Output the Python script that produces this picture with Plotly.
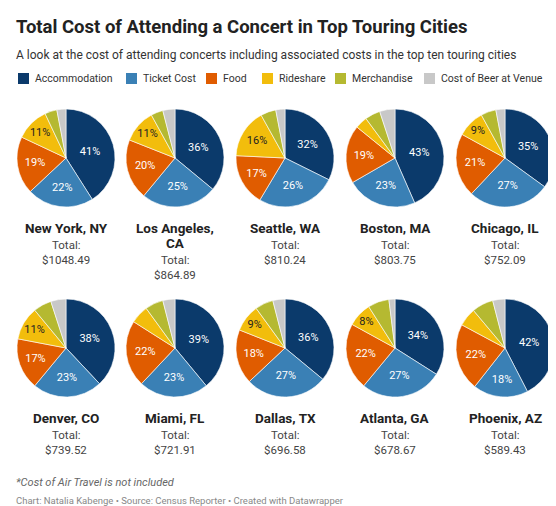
import plotly.graph_objects as go

categories = ["Accommodation", "Ticket Cost", "Food", "Rideshare", "Merchandise", "Cost of Beer at Venue"]
colors = ["#0b3a6b", "#3a80b5", "#e05c00", "#f2bd0c", "#b5b931", "#c8c8c8"]
cities = ["New York, NY", "Los Angeles,<br>CA", "Seattle, WA", "Boston, MA", "Chicago, IL",
          "Denver, CO", "Miami, FL", "Dallas, TX", "Atlanta, GA", "Phoenix, AZ"]
totals = ["$1048.49", "$864.89", "$810.24", "$803.75", "$752.09",
          "$739.52", "$721.91", "$696.58", "$678.67", "$589.43"]
shares = [
    [41, 22, 19, 11, 4, 3],
    [36, 25, 20, 11, 4, 4],
    [32, 26, 17, 16, 5, 3],
    [43, 23, 19, 4, 5, 5],
    [35, 27, 21, 9, 5, 3],
    [38, 23, 17, 11, 6, 5],
    [39, 23, 22, 6, 6, 4],
    [36, 27, 18, 9, 6, 4],
    [34, 27, 22, 8, 7, 2],
    [42, 18, 22, 6, 7, 4],
]

W, H = 556, 506
centers_x = [58, 167, 277, 387, 497]
centers_y = [150, 340]
R = 49
fig = go.Figure()
anns = []
shapes = []

def ann(x, y, text, size, color, xanchor="center"):
    anns.append(dict(x=x / W, y=1 - y / H, text=text, showarrow=False,
                     xref="paper", yref="paper", xanchor=xanchor, yanchor="middle",
                     font=dict(size=size, color=color), align="center"))

for i, (city, tot, vals) in enumerate(zip(cities, totals, shares)):
    cx = centers_x[i % 5]
    cy = centers_y[i // 5]
    text = [f"{v}%" if (v >= 8 and k < 4) else "" for k, v in enumerate(vals)]
    fig.add_trace(go.Pie(
        labels=categories, values=vals, text=text, textinfo="text",
        textposition="inside", insidetextorientation="horizontal",
        sort=False, direction="clockwise", rotation=0,
        marker=dict(colors=colors, line=dict(color="white", width=0.6)),
        textfont=dict(size=11, color=["white", "white", "white", "#222", "#222", "#222"]),
        domain=dict(x=[(cx - R) / W, (cx + R) / W], y=[1 - (cy + R) / H, 1 - (cy - R) / H]),
        showlegend=False, hoverinfo="label+percent",
    ))
    ny = 220 if i < 5 else 410
    if "<br>" in city:
        ann(cx, ny, "<b>Los Angeles,</b>", 13.5, "#222")
        ann(cx, ny + 15, "<b>CA</b>", 13.5, "#222")
        off = 32
    else:
        ann(cx, ny, f"<b>{city}</b>", 13.5, "#222")
        off = 17
    ann(cx, ny + off, "Total:", 11.5, "#444")
    ann(cx, ny + off + 15, tot, 11.5, "#444")

leg_x = [10, 118, 198, 254, 327, 416]
for c, col, lx in zip(categories, colors, leg_x):
    shapes.append(dict(type="rect", xref="paper", yref="paper",
                       x0=lx / W, x1=(lx + 11) / W, y0=1 - 76 / H, y1=1 - 65 / H,
                       fillcolor=col, line=dict(width=0)))
    ann(lx + 15, 70.5, c, 10.5, "#333", "left")

ann(6, 19, "<b>Total Cost of Attending a Concert in Top Touring Cities</b>", 18.5, "#222", "left")
ann(6, 47, "A look at the cost of attending concerts including associated costs in the top ten touring cities",
    12, "#333", "left")
ann(6, 474, "<i>*Cost of Air Travel is not included</i>", 11, "#666", "left")
ann(6, 492, "Chart: Natalia Kabenge • Source: Census Reporter • Created with Datawrapper", 9.5, "#888", "left")

fig.update_layout(width=W, height=H, margin=dict(l=0, r=0, t=0, b=0),
                  paper_bgcolor="white", plot_bgcolor="white",
                  font=dict(family="Roboto"), annotations=anns, shapes=shapes)
fig.write_html("out.html")
